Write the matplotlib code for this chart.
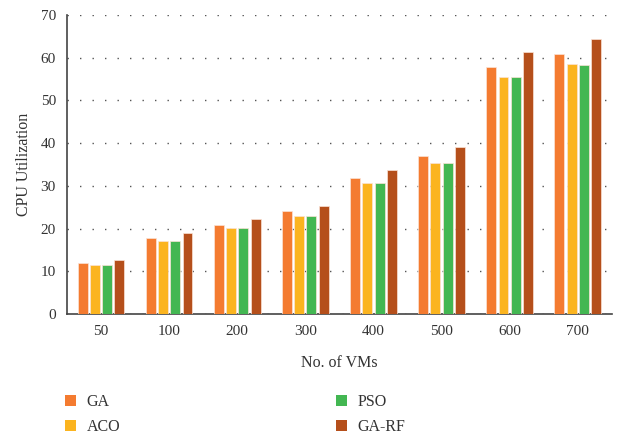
#!/usr/bin/env python3

import numpy as np
import matplotlib.pyplot as plt
from matplotlib.patches import Patch

vms = ["50", "100", "200", "300", "400", "500", "600", "700"]
ga = [11.9, 17.9, 20.8, 24.0, 31.9, 36.9, 57.9, 60.9]
aco = [11.4, 17.2, 20.1, 22.9, 30.7, 35.4, 55.6, 58.5]
pso = [11.4, 17.2, 20.1, 22.9, 30.6, 35.4, 55.5, 58.4]
ga_rf = [12.6, 19.0, 22.2, 25.3, 33.7, 39.0, 61.3, 64.4]
series = [("GA", ga, "#f47b30"), ("ACO", aco, "#fbb41f"),
          ("PSO", pso, "#43b752"), ("GA-RF", ga_rf, "#b54f1b")]

plt.rcParams["font.family"] = ["Liberation Serif", "DejaVu Serif"]
fig = plt.figure(figsize=(6.32, 4.41), dpi=100)
ax = fig.add_axes([0.106, 0.288, 0.862, 0.678])

x = np.arange(len(vms))
w = 0.146
pitch = 0.18
for i, (name, vals, col) in enumerate(series):
	ax.bar(x + (i - 1.5)*pitch, vals, w, color=col, edgecolor="#fbe3d6",
		   linewidth=0.5, zorder=3)

ax.set_xlim(-0.5, len(vms) - 0.5)
ax.set_ylim(0, 70)
ax.set_yticks(range(0, 71, 10))
ax.set_xticks(x)
ax.set_xticklabels(vms)
ax.tick_params(length=0, labelsize=11, colors="#333333", pad=8)
ax.yaxis.grid(True, linestyle=(0, (1, 8)), color="#555555", linewidth=1.0)
ax.set_axisbelow(True)
for s in ["top", "right"]:
	ax.spines[s].set_visible(False)
for s in ["left", "bottom"]:
	ax.spines[s].set_color("#444444")
	ax.spines[s].set_linewidth(1.2)
ax.set_ylabel("CPU Utilization", fontsize=11.5, color="#333333", labelpad=6)
ax.set_xlabel("No. of VMs", fontsize=11.5, color="#333333", labelpad=12)

handles = [Patch(facecolor=c, label=n) for n, _, c in series]
fig.legend(handles=handles, ncol=2, loc="lower left", bbox_to_anchor=(0.08, -0.02),
		   frameon=False, fontsize=11.5, handlelength=0.7, handleheight=0.7,
		   columnspacing=13.5, labelspacing=0.6, handletextpad=0.65, labelcolor="#333333")

fig.savefig("out.png", dpi=100)
